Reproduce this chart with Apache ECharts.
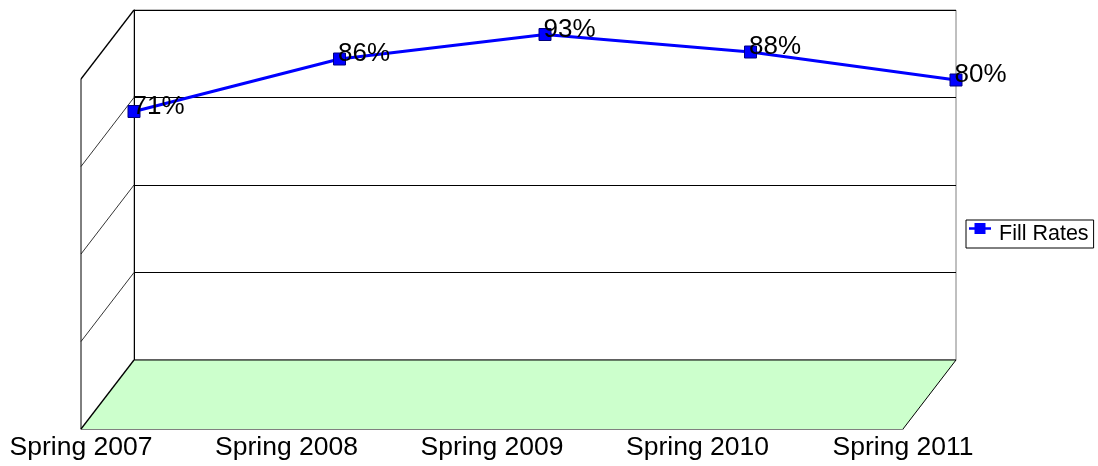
<!DOCTYPE html>
<html>
<head>
<meta charset="utf-8">
<script src="https://cdn.jsdelivr.net/npm/echarts@6/dist/echarts.min.js"></script>
<style>
html, body { margin: 0; padding: 0; background: #fff; }
#main { width: 1098px; height: 466px; }
</style>
</head>
<body>
<div id="main"></div>
<script>
// data
const seasons = ['Spring 2007', 'Spring 2008', 'Spring 2009', 'Spring 2010', 'Spring 2011'];
const fillRates = [71, 86, 93, 88, 80];
const seriesName = 'Fill Rates';

// back wall of the fake 3d box and depth offset of the floor
const wall = { left: 134, right: 956, top: 10, bottom: 360 };
const depth = { dx: -53, dy: 69 };
const FONT = 'Liberation Sans, Arial, sans-serif';
// legend glyph: line with a square sitting in the upper part of the box
const legendIcon = 'path://M0 4.2L22 4.2L22 6.8L0 6.8Z M5.5 0L16.5 0L16.5 11L5.5 11Z M0 22L0.01 22L0.01 22Z';

const chart = echarts.init(document.getElementById('main'));

chart.setOption({
	animation: false,
	textStyle: { fontFamily: FONT },
	legend: {
		left: 966,
		top: 220,
		orient: 'vertical',
		borderColor: '#000',
		borderWidth: 1,
		padding: [3, 5, 3, 3],
		itemWidth: 22,
		itemHeight: 22,
		itemGap: 0,
		icon: legendIcon,
		itemStyle: { color: '#0000ff', borderWidth: 0 },
		textStyle: { fontSize: 21.5, lineHeight: 22, color: '#000', fontFamily: FONT, padding: [0, 0, 0, 3] },
		data: [seriesName]
	},
	grid: [
		{ // back wall
			left: wall.left,
			right: 1098 - wall.right,
			top: wall.top,
			bottom: 466 - wall.bottom,
			show: true,
			borderColor: '#808080',
			borderWidth: 1,
			containLabel: false
		},
		{ // front edge of the floor, only carries the category labels
			left: wall.left + depth.dx,
			right: 1098 - wall.right - depth.dx,
			top: wall.top + depth.dy,
			bottom: 466 - wall.bottom - depth.dy,
			containLabel: false
		}
	],
	xAxis: [
		{
			type: 'category',
			gridIndex: 0,
			boundaryGap: false,
			data: seasons,
			axisLine: { show: false },
			axisTick: { show: false },
			axisLabel: { show: false }
		},
		{
			type: 'category',
			gridIndex: 1,
			boundaryGap: false,
			data: seasons,
			axisLine: { lineStyle: { color: '#808080', width: 1 } },
			axisTick: { show: false },
			axisLabel: { color: '#000', fontSize: 26.5, fontFamily: FONT, margin: 5 }
		}
	],
	yAxis: [
		{
			type: 'value',
			gridIndex: 0,
			min: 0,
			max: 100,
			interval: 25,
			axisLine: { show: true, lineStyle: { color: '#000', width: 1 } },
			axisTick: { show: false },
			axisLabel: { show: false },
			splitLine: { lineStyle: { color: '#000', width: 1 } }
		},
		{
			type: 'value',
			gridIndex: 1,
			show: false,
			min: 0,
			max: 100
		}
	],
	series: [
		{
			name: seriesName,
			type: 'line',
			xAxisIndex: 0,
			yAxisIndex: 0,
			data: fillRates,
			symbol: 'rect',
			symbolSize: 12,
			z: 5,
			lineStyle: { color: '#0000ff', width: 3 },
			itemStyle: { color: '#0000ff', borderColor: '#000080', borderWidth: 1 },
			label: {
				show: true,
				position: 'right',
				distance: -8,
				offset: [0, -5],
				formatter: '{c}%',
				color: '#000',
				fontSize: 26,
				fontFamily: FONT
			}
		}
	]
});

// side wall + floor, placed from the value axis ticks
function drawBox() {
	const els = [];
	const xl = wall.left, xr = wall.right;
	const yBottom = chart.convertToPixel({ yAxisIndex: 0 }, 0);
	const yTop = chart.convertToPixel({ yAxisIndex: 0 }, 100);

	els.push({
		type: 'polygon',
		z: 1,
		shape: { points: [[xl, yBottom], [xr, yBottom], [xr + depth.dx, yBottom + depth.dy], [xl + depth.dx, yBottom + depth.dy]] },
		style: { fill: '#ccffcc', stroke: null }
	});
	// floor back edge (over the fill)
	els.push({
		type: 'line', z: 2,
		shape: { x1: xl, y1: yBottom, x2: xr, y2: yBottom },
		style: { stroke: '#000', lineWidth: 1.2 }
	});
	// right floor edge
	els.push({
		type: 'line', z: 2,
		shape: { x1: xr, y1: yBottom, x2: xr + depth.dx, y2: yBottom + depth.dy },
		style: { stroke: '#000', lineWidth: 1 }
	});
	// left wall outer vertical
	els.push({
		type: 'line', z: 2,
		shape: { x1: xl + depth.dx, y1: yTop + depth.dy, x2: xl + depth.dx, y2: yBottom + depth.dy },
		style: { stroke: '#000', lineWidth: 1 }
	});
	[0, 25, 50, 75, 100].forEach(v => {
		const y = chart.convertToPixel({ yAxisIndex: 0 }, v);
		els.push({
			type: 'line', z: 2,
			shape: { x1: xl, y1: y, x2: xl + depth.dx, y2: y + depth.dy },
			style: { stroke: '#000', lineWidth: (v === 0 || v === 100) ? 1.3 : 0.8 }
		});
	});
	chart.setOption({ graphic: els });
}
drawBox();
</script>
</body>
</html>
